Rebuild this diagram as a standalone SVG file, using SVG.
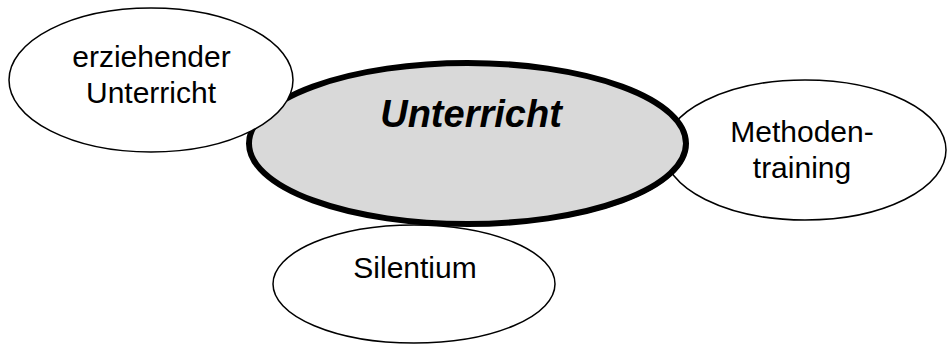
<svg xmlns="http://www.w3.org/2000/svg" width="947" height="345" viewBox="0 0 947 345">
<style>
.node{fill:#ffffff;stroke:#000000;stroke-width:1.5}
.main{fill:#d9d9d9;stroke:#000000;stroke-width:6}
.t{font-family:"Liberation Sans",Arial,sans-serif;font-size:30px;fill:#000000;text-anchor:middle}
.tb{font-family:"Liberation Sans",Arial,sans-serif;font-size:38px;font-weight:bold;font-style:italic;fill:#000000;text-anchor:middle}
</style>
<rect width="947" height="345" fill="#ffffff"/>
<g id="connectors"></g>
<g id="methodentraining">
<ellipse class="node" cx="805" cy="150" rx="141" ry="70"/>
<text class="t" x="802" y="142">Methoden-</text>
<text class="t" x="802" y="178">training</text>
</g>
<g id="silentium">
<ellipse class="node" cx="414" cy="284" rx="141" ry="59"/>
<text class="t" x="415" y="278">Silentium</text>
</g>
<g id="unterricht">
<ellipse cx="469" cy="145.5" rx="218.5" ry="80.5" fill="#000000"/>
<ellipse class="main" cx="467.5" cy="143.5" rx="218.5" ry="80.5"/>
<text class="tb" x="471" y="127">Unterricht</text>
</g>
<g id="erziehender-unterricht">
<ellipse class="node" cx="151" cy="80" rx="142" ry="72"/>
<text class="t" x="151.5" y="67">erziehender</text>
<text class="t" x="151" y="103">Unterricht</text>
</g>
</svg>
